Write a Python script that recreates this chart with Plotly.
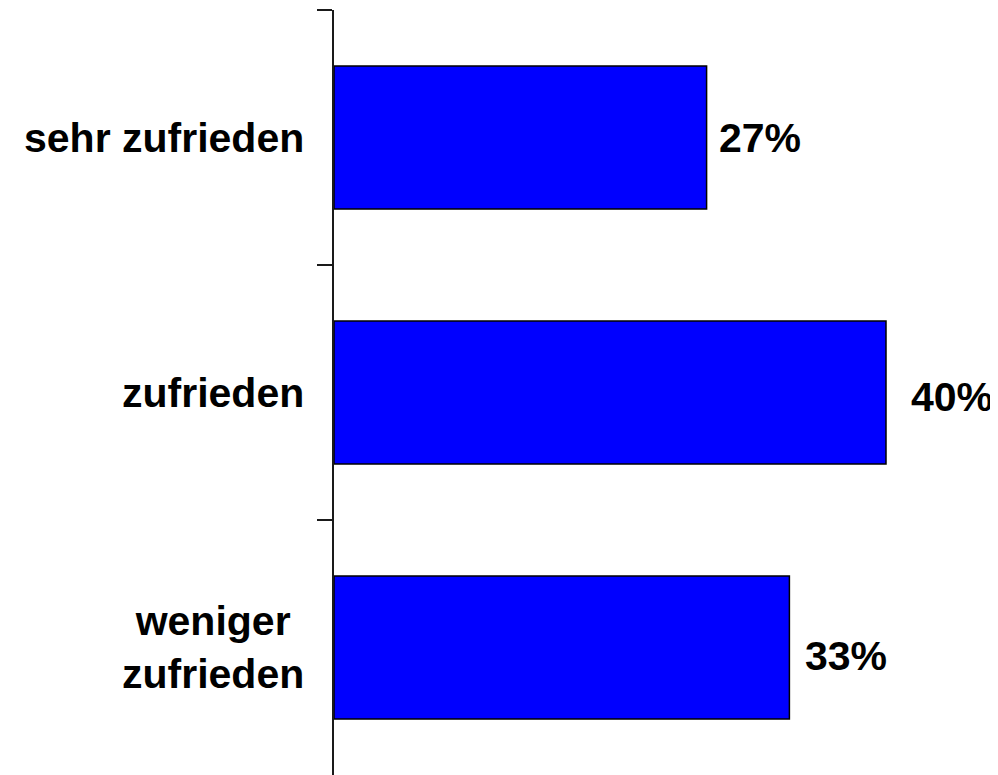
import plotly.graph_objects as go

categories = ["sehr zufrieden", "zufrieden", "weniger<br>zufrieden"]
shares = [27, 40, 33]

# extra room between bar end and value label, per bar (as in the original)
label_xshift = [10, 23, 14]
label_yshift = [0, -4, -8]

pos = list(range(len(categories)))

fig = go.Figure(
    go.Bar(
        x=shares,
        y=pos,
        orientation="h",
        marker=dict(color="#0000FF", line=dict(color="black", width=1.5)),
        hoverinfo="skip",
    )
)

# category labels, centered text, right of them the axis
for p, c in zip(pos, categories):
    fig.add_annotation(
        x=0, xref="paper", y=p, yref="y",
        text=f"<b>{c}</b>", showarrow=False,
        xanchor="right", yanchor="middle", align="center",
        xshift=-28,
        font=dict(family="Liberation Sans, Arial", size=41, color="black"),
    )

# value labels
for p, v, dx, dy in zip(pos, shares, label_xshift, label_yshift):
    fig.add_annotation(
        x=v, y=p, text=f"<b>{v}%</b>", showarrow=False,
        xanchor="left", yanchor="middle",
        xshift=dx, yshift=dy,
        font=dict(family="Liberation Sans, Arial", size=41, color="black"),
    )

# page body adds ~8px around the figure
fig.update_layout(
    width=990,
    height=767,
    margin=dict(l=326, r=43, t=2, b=0),
    plot_bgcolor="white",
    paper_bgcolor="white",
    bargap=0.44,
    showlegend=False,
    xaxis=dict(range=[0, 45], visible=False),
    yaxis=dict(
        range=[2.5, -0.5],
        tickvals=[-0.5, 0.5, 1.5],
        ticktext=["", "", ""],
        ticks="outside",
        ticklen=15,
        tickwidth=2,
        tickcolor="#1a1a1a",
        showline=True,
        linewidth=2,
        linecolor="#1a1a1a",
        showgrid=False,
        zeroline=False,
    ),
)

fig.write_html("out.html")
